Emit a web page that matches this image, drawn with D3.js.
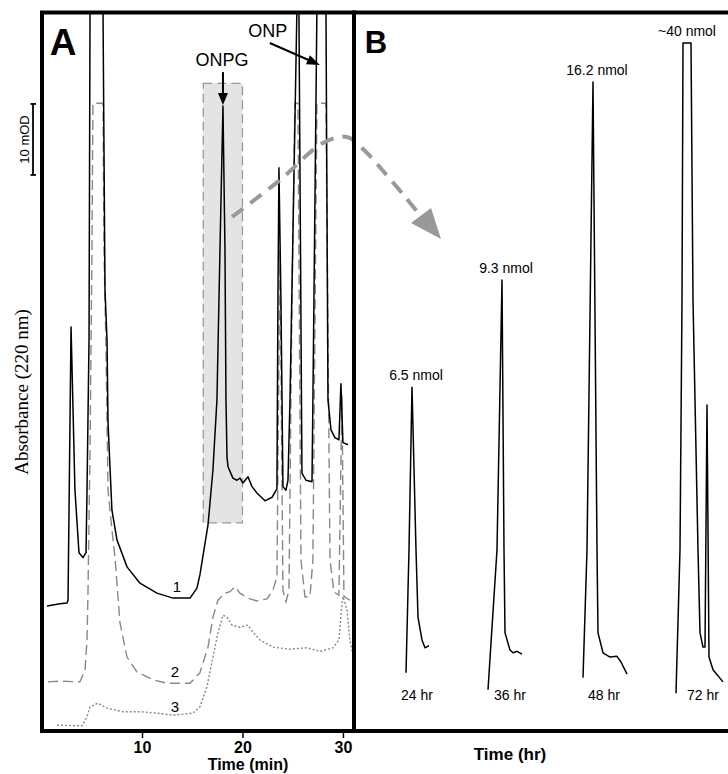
<!DOCTYPE html>
<html lang="en">
<head>
<meta charset="UTF-8">
<title>ONPG / ONP chromatograms</title>
<script src="https://cdnjs.cloudflare.com/ajax/libs/d3/7.8.5/d3.min.js"></script>
<style>
  html, body { margin: 0; padding: 0; background: #fff; }
  svg { display: block; font-family: "Liberation Sans", Arial, sans-serif; }
  .tick text { font-size: 16px; font-weight: bold; fill: #000; }
  .tick line { stroke: #000; stroke-width: 1.5; }
</style>
</head>
<body>
<div id="chart"></div>
<script>
  // Panel A: time (min) vs absorbance (mOD, offset traces)
  const trace1 = [[0.55,17.9],[1.84,18.2],[2.54,18.3],[2.64,18.7],[2.94,57.2],[3.33,34.2],[3.73,25.4],[4.13,24.7],
    [4.43,25.4],[4.53,34.2],[4.73,55.4],[4.83,102],[6.12,102],[6.32,62.4],[6.52,55.4],[6.62,43.7],[6.92,34.2],
    [7.01,31.4],[7.51,27.2],[8.51,23.4],[9.80,21.1],[11.49,19.7],[13.08,19.0],[14.78,19.0],[15.47,20.4],
    [15.77,22.3],[16.57,29.3],[17.06,37.0],[17.46,46.9],[17.76,68.0],[18.06,88.3],[18.26,68.0],[18.36,46.9],
    [18.46,38.9],[18.56,37.5],[19.05,35.9],[19.45,35.6],[19.75,35.9],[20.05,35.2],[20.55,36.1],[20.95,34.7],
    [21.44,33.8],[22.24,32.7],[22.94,33.2],[23.43,34.4],[23.53,61.0],[23.63,79.6],[23.83,61.0],[24.03,34.7],
    [24.33,34.2],[24.53,35.6],[24.73,46.9],[25.42,102],[25.62,102],[25.92,36.6],[26.32,35.6],[26.92,35.4],
    [27.01,46.9],[27.41,102],[28.31,102],[28.51,46.9],[28.81,42.7],[29.20,41.6],[29.60,41.3],[29.80,49.2],
    [30.00,40.9],[30.50,40.6]];
  const trace2 = [[0.65,7.2],[1.84,7.3],[3.83,7.2],[4.33,8.9],[4.53,13.1],[4.63,20.1],[4.83,39.9],[5.02,68.0],
    [5.12,88.7],[6.12,88.7],[6.22,68.0],[6.42,53.9],[6.62,34.2],[7.01,28.6],[7.31,24.8],[7.81,15.5],[8.51,10.7],
    [9.50,8.6],[11.09,7.5],[12.49,7.0],[13.78,7.0],[14.78,7.0],[15.77,8.5],[16.57,12.1],[17.06,16.3],[17.56,18.7],
    [18.26,19.7],[18.76,19.9],[19.25,20.6],[19.75,19.7],[20.55,19.0],[21.44,18.6],[22.44,18.9],[23.03,20.1],
    [23.43,22.0],[23.73,68.0],[24.03,20.1],[24.33,18.5],[24.63,20.1],[24.93,61.0],[25.22,88.7],[25.52,88.7],
    [25.82,24.4],[26.22,19.2],[26.72,19.2],[27.01,24.4],[27.41,88.7],[28.31,88.7],[28.71,24.4],[29.10,19.9],
    [29.60,19.4],[29.90,47.6],[30.10,19.2],[30.70,18.7]];
  const trace3 = [[1.54,1.1],[4.03,1.0],[4.53,2.3],[4.83,3.7],[5.62,4.2],[6.52,3.5],[8.11,3.0],[9.80,3.0],
    [11.49,2.8],[13.08,2.5],[15.07,2.8],[15.77,3.7],[16.47,6.5],[17.06,10.7],[17.56,14.1],[18.06,16.6],
    [18.46,16.3],[18.96,15.2],[19.75,14.9],[20.55,15.2],[21.04,14.2],[21.74,13.1],[23.03,12.1],[24.73,11.8],
    [26.42,12.0],[27.71,11.5],[29.00,12.0],[29.60,13.1],[29.80,16.6],[30.00,19.2],[30.40,17.3],[30.70,13.1],
    [31.00,11.0]];
  const traceNames = ["1", "2", "3"];
  const traceNamePos = [[13.48,19.9],[13.28,7.9],[13.28,3.0]];
  const xTicksA = [10, 20, 30];
  const windowTime = [16.1, 20.0];     // shaded ONPG window
  const windowAbs = [29.6, 91.5];
  const onpTime = 27.7;
  const scaleBar = [78.6, 88.6];       // 10 mOD

  // Panel B: magnified ONPG window at each sampling time
  const bTimes = ["24 hr", "36 hr", "48 hr", "72 hr"];
  const bAmounts = ["6.5 nmol", "9.3 nmol", "16.2 nmol", "~40 nmol"];
  const bTimePos = [6.3, 15.6, 25.0, 34.9];
  const b24 = [[5.2,8.5],[5.5,25.8],[5.8,48.7],[6.2,25.8],[6.4,16.3],[6.8,13.1],[7.1,12.0],[7.5,12.3]];
  const b36 = [[13.4,6.1],[14.3,25.8],[14.8,63.8],[15.0,25.8],[15.1,14.1],[15.6,11.7],[15.9,11.3],[16.3,11.5],[16.8,11.1]];
  const b48 = [[22.9,7.8],[23.3,25.8],[23.9,91.7],[24.3,25.8],[24.4,14.1],[24.9,11.3],[25.6,10.7],[26.3,10.8],[26.7,10.0],[27.3,8.3]];
  const b72 = [[32.2,5.6],[32.6,25.8],[32.8,61.0],[32.9,97.2],[33.7,97.2],[33.9,61.0],[34.4,25.8],[34.6,14.1],
    [34.9,12.1],[35.1,12.1],[35.3,46.2],[35.5,10.7],[35.9,8.9],[36.9,7.2]];
  const bSeries = [b24, b36, b48, b72];

  const width = 728, height = 774;
  const frameTop = 12.5, frameBottom = 731, frameA = [42, 354], frameBRight = 745;

  const svg = d3.select("#chart").append("svg")
    .attr("width", width).attr("height", height);

  const xA = d3.scaleLinear().domain([0, 31.2]).range([41.5, 355]);
  const y = d3.scaleLinear().domain([0, 101.27]).range([733, 14]);
  const xB = d3.scaleLinear().domain([0, 37.4]).range([354, 728]);

  const lineA = d3.line().x(d => xA(d[0])).y(d => y(d[1]));
  const lineB = d3.line().x(d => xB(d[0])).y(d => y(d[1]));

  const defs = svg.append("defs");
  defs.append("clipPath").attr("id", "clipA").append("rect")
    .attr("x", frameA[0]).attr("y", frameTop).attr("width", frameA[1] - frameA[0]).attr("height", frameBottom - frameTop);

  // shaded window
  svg.append("rect")
    .attr("x", xA(windowTime[0])).attr("y", y(windowAbs[1]))
    .attr("width", xA(windowTime[1]) - xA(windowTime[0]))
    .attr("height", y(windowAbs[0]) - y(windowAbs[1]))
    .attr("fill", "#e4e4e4").attr("stroke", "#999").attr("stroke-width", 1.3)
    .attr("stroke-dasharray", "9,5");

  const plotA = svg.append("g").attr("clip-path", "url(#clipA)");
  plotA.append("path").datum(trace3).attr("d", lineA)
    .attr("fill", "none").attr("stroke", "#888").attr("stroke-width", 1.4).attr("stroke-dasharray", "2,2");
  plotA.append("path").datum(trace2).attr("d", lineA)
    .attr("fill", "none").attr("stroke", "#888").attr("stroke-width", 1.4).attr("stroke-dasharray", "10,5");
  plotA.append("path").datum(trace1).attr("d", lineA)
    .attr("fill", "none").attr("stroke", "#000").attr("stroke-width", 1.5).attr("stroke-linejoin", "round");

  svg.selectAll(".trace-name").data(traceNames).join("text")
    .attr("class", "trace-name")
    .attr("x", (d, i) => xA(traceNamePos[i][0]))
    .attr("y", (d, i) => y(traceNamePos[i][1]))
    .attr("text-anchor", "middle").attr("font-size", 15).text(d => d);

  // panel B peaks
  svg.selectAll(".bpeak").data(bSeries).join("path")
    .attr("class", "bpeak").attr("d", lineB)
    .attr("fill", "none").attr("stroke", "#000").attr("stroke-width", 1.5).attr("stroke-linejoin", "round");

  svg.selectAll(".bamount").data(bAmounts).join("text")
    .attr("class", "bamount")
    .attr("x", (d, i) => {
      const s = bSeries[i];
      const top = d3.max(s, p => p[1]);
      const pts = s.filter(p => p[1] === top);
      return xB(d3.mean(pts, p => p[0])) + (pts.length > 1 ? 0 : 4);
    })
    .attr("y", (d, i) => y(d3.max(bSeries[i], p => p[1])) - 7)
    .attr("text-anchor", "middle").attr("font-size", 14).text(d => d);

  svg.selectAll(".btime").data(bTimes).join("text")
    .attr("class", "btime")
    .attr("x", (d, i) => xB(bTimePos[i])).attr("y", 700)
    .attr("text-anchor", "middle").attr("font-size", 14).text(d => d);

  // arrows
  function arrow(x1, y1, x2, y2, len, half, color, w) {
    const a = Math.atan2(y2 - y1, x2 - x1);
    const bx = x2 - len * Math.cos(a), by = y2 - len * Math.sin(a);
    svg.append("line").attr("x1", x1).attr("y1", y1).attr("x2", bx).attr("y2", by)
      .attr("stroke", color).attr("stroke-width", w);
    svg.append("path")
      .attr("d", `M${x2},${y2}L${bx + half * Math.sin(a)},${by - half * Math.cos(a)}L${bx - half * Math.sin(a)},${by + half * Math.cos(a)}Z`)
      .attr("fill", color);
  }

  const onpgPeak = trace1.reduce((m, p) => (p[0] > 17 && p[0] < 19 && p[1] > m[1]) ? p : m, [0, 0]);
  const px = xA(onpgPeak[0]), py = y(onpgPeak[1]);
  arrow(px, py - 34, px, py - 1, 12, 5, "#000", 2);
  svg.append("text").attr("x", px - 1).attr("y", py - 40)
    .attr("text-anchor", "middle").attr("font-size", 18).text("ONPG");

  const ox = xA(onpTime), oy = 65;
  arrow(ox - 50, oy - 22, ox, oy, 13, 5, "#000", 2);
  svg.append("text").attr("x", ox - 52).attr("y", oy - 28)
    .attr("text-anchor", "middle").attr("font-size", 18).text("ONP");

  // dashed link from window to panel B
  const linkPts = [[232,217],[280,180],[323,143],[347,137],[366,152],[384,172],[406,198],[419,214]];
  svg.append("path")
    .attr("d", d3.line().curve(d3.curveCatmullRom)(linkPts))
    .attr("fill", "none").attr("stroke", "#999").attr("stroke-width", 4).attr("stroke-dasharray", "14,9");
  svg.append("path").attr("d", "M441,239L411,223L431,208Z").attr("fill", "#999");

  // scale bar
  const sb = svg.append("g").attr("stroke", "#000").attr("stroke-width", 1.8);
  sb.append("line").attr("x1", 33).attr("x2", 33).attr("y1", y(scaleBar[0])).attr("y2", y(scaleBar[1]));
  sb.append("line").attr("x1", 30.5).attr("x2", 36).attr("y1", y(scaleBar[0])).attr("y2", y(scaleBar[0]));
  sb.append("line").attr("x1", 30.5).attr("x2", 36).attr("y1", y(scaleBar[1])).attr("y2", y(scaleBar[1]));
  svg.append("text")
    .attr("transform", `translate(28.5,${(y(scaleBar[0]) + y(scaleBar[1])) / 2}) rotate(-90)`)
    .attr("text-anchor", "middle").attr("font-size", 13).text("10 mOD");

  svg.append("text")
    .attr("transform", "translate(28,392) rotate(-90)")
    .attr("text-anchor", "middle").attr("font-size", 19)
    .attr("font-family", "'Liberation Serif', 'Times New Roman', serif")
    .text("Absorbance (220 nm)");

  // frames
  svg.append("rect").attr("x", frameA[0]).attr("y", frameTop)
    .attr("width", frameA[1] - frameA[0]).attr("height", frameBottom - frameTop)
    .attr("fill", "none").attr("stroke", "#000").attr("stroke-width", 4);
  svg.append("rect").attr("x", frameA[1]).attr("y", frameTop)
    .attr("width", frameBRight - frameA[1]).attr("height", frameBottom - frameTop)
    .attr("fill", "none").attr("stroke", "#000").attr("stroke-width", 4);

  const axisA = svg.append("g").attr("transform", `translate(0,${frameBottom + 1})`)
    .call(d3.axisBottom(xA).tickValues(xTicksA).tickSize(6).tickPadding(4));
  axisA.select(".domain").remove();
  axisA.selectAll("text").attr("font-family", "'Liberation Sans', Arial, sans-serif");

  svg.append("text").attr("x", 248).attr("y", 770).attr("text-anchor", "middle")
    .attr("font-size", 16).attr("font-weight", "bold").text("Time (min)");
  svg.append("text").attr("x", 510).attr("y", 760).attr("text-anchor", "middle")
    .attr("font-size", 17).attr("font-weight", "bold").text("Time (hr)");

  svg.append("text").attr("x", 63).attr("y", 55).attr("text-anchor", "middle")
    .attr("font-size", 37).attr("font-weight", "bold").text("A");
  svg.append("text").attr("x", 376).attr("y", 53).attr("text-anchor", "middle")
    .attr("font-size", 31).attr("font-weight", "bold").text("B");
</script>
</body>
</html>
